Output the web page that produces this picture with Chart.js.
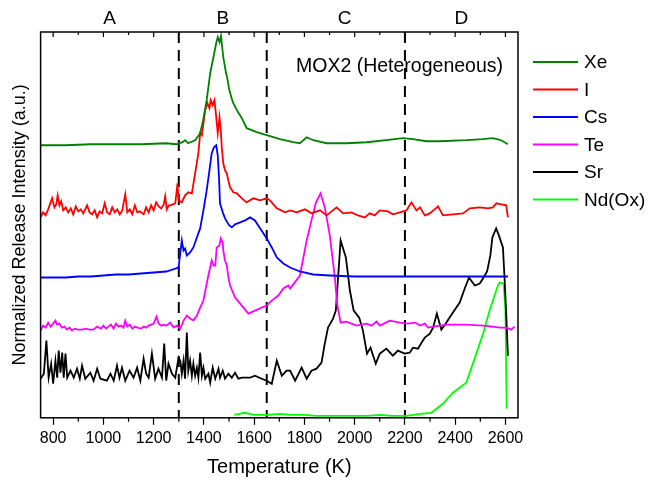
<!DOCTYPE html>
<html>
<head>
<meta charset="utf-8">
<script src="https://cdn.jsdelivr.net/npm/chart.js@4.4.0/dist/chart.umd.min.js"></script>
<style>
  body { margin: 0; background: #fff; }
  canvas { display: block; }
</style>
</head>
<body>
<canvas id="chart" width="648" height="480"></canvas>
<script>
// [temperature (K), release intensity (a.u.)] pairs, each trace already stacked on its own offset
const xe = [[750,272],[850,272],[950,273],[1050,273],[1150,273],[1250,274],[1290,273],[1315,275],[1325,277],[1337,274],
  [1365,277],[1385,284],[1397,297],[1411,317],[1425,344],[1438,360],[1449,374],[1455,380],[1462,375],[1468,381],
  [1477,360],[1488,344],[1493,339],[1501,327],[1515,315],[1531,307],[1551,299],[1570,289],[1610,285],[1650,282],
  [1703,278],[1755,275],[1782,274],[1809,280],[1835,277],[1888,274],[1967,274],[2047,275],[2126,277],[2192,279],
  [2232,278],[2285,276],[2338,276],[2444,277],[2510,278],[2550,279],[2583,277],[2610,273]];

const iodine = [[750,200],[760,205],[770,202],[780,208],[790,215],[796,219],[805,210],[812,213],[818,222],[825,212],
  [832,216],[840,207],[850,210],[860,205],[870,209],[880,203],[890,211],[900,206],[910,208],[920,204],
  [935,212],[945,205],[955,203],[965,207],[975,200],[985,206],[995,204],[1005,214],[1015,205],[1025,203],
  [1035,210],[1045,205],[1055,208],[1065,203],[1075,207],[1087,223],[1095,205],[1105,208],[1115,203],[1125,212],
  [1135,205],[1145,206],[1160,203],[1170,210],[1180,205],[1190,212],[1200,207],[1210,215],[1220,211],[1230,209],
  [1240,213],[1246,221],[1252,208],[1260,212],[1266,212],[1286,214],[1295,234],[1299,217],[1312,215],[1325,222],
  [1338,225],[1352,224],[1365,244],[1378,264],[1385,284],[1392,282],[1405,307],[1414,314],[1422,309],[1427,317],
  [1435,312],[1442,317],[1449,300],[1455,284],[1462,300],[1467,287],[1471,270],[1477,254],[1484,247],[1491,244],
  [1497,237],[1504,230],[1517,225],[1531,224],[1551,219],[1570,215],[1597,219],[1623,217],[1650,219],[1663,217],
  [1690,209],[1723,205],[1743,207],[1769,205],[1802,208],[1828,204],[1862,207],[1888,202],[1928,210],[1954,204],
  [1987,205],[2013,202],[2040,200],[2060,204],[2080,202],[2100,207],[2132,206],[2152,203],[2180,205],[2206,207],
  [2226,215],[2246,207],[2260,210],[2279,202],[2299,204],[2332,211],[2351,202],[2431,204],[2458,209],[2498,210],
  [2531,209],[2550,210],[2564,214],[2583,213],[2603,212],[2610,200]];

const cs = [[750,140],[800,140],[850,140],[900,141],[950,141],[1000,142],[1050,143],[1100,143],[1150,144],[1200,145],
  [1250,146],[1299,150],[1312,177],[1319,167],[1325,169],[1332,162],[1345,165],[1358,170],[1372,180],[1385,189],
  [1398,207],[1411,227],[1422,247],[1431,264],[1440,270],[1449,272],[1455,262],[1460,240],[1464,214],[1475,205],
  [1484,199],[1493,195],[1501,192],[1511,190],[1524,193],[1544,195],[1564,197],[1584,200],[1603,197],[1624,189],
  [1650,179],[1670,170],[1690,160],[1716,154],[1743,150],[1782,146],[1835,143],[1901,142],[2000,141],[2100,141],
  [2200,141],[2300,141],[2400,141],[2500,141],[2610,141]];

const te = [[750,87],[760,92],[770,90],[780,95],[790,91],[800,94],[809,97],[815,93],[825,94],[835,90],
  [845,91],[855,88],[865,90],[875,87],[885,89],[900,88],[915,88],[930,89],[945,88],[960,88],
  [975,91],[990,89],[1000,92],[1010,89],[1020,91],[1030,93],[1040,89],[1050,94],[1060,91],[1070,92],
  [1080,90],[1087,97],[1095,91],[1105,93],[1115,89],[1125,91],[1135,90],[1150,89],[1160,91],[1170,90],
  [1180,92],[1190,93],[1200,94],[1211,101],[1220,94],[1230,92],[1240,93],[1250,92],[1266,95],[1279,90],
  [1292,92],[1306,89],[1319,97],[1332,102],[1345,99],[1358,97],[1372,102],[1385,110],[1398,117],[1411,134],
  [1422,147],[1431,157],[1438,152],[1445,152],[1451,170],[1462,172],[1467,179],[1475,175],[1477,167],[1484,157],
  [1491,152],[1497,141],[1504,132],[1524,120],[1544,114],[1577,104],[1603,107],[1630,110],[1650,112],[1670,117],
  [1696,122],[1716,129],[1736,132],[1743,129],[1782,142],[1809,177],[1828,197],[1846,215],[1864,224],[1881,210],
  [1901,182],[1921,140],[1930,114],[1944,95],[1967,96],[2007,92],[2047,94],[2067,92],[2087,96],[2100,92],
  [2140,97],[2180,95],[2213,94],[2240,95],[2260,92],[2279,94],[2292,90],[2312,91],[2365,93],[2444,93],
  [2511,92],[2550,91],[2577,90],[2603,90],[2623,88],[2637,91]];

const sr = [[750,39],[763,44],[773,77],[782,40],[792,54],[800,34],[809,57],[816,40],[822,67],[829,45],
  [836,65],[842,40],[849,64],[856,40],[869,47],[882,40],[895,49],[906,39],[915,52],[928,39],
  [948,45],[961,37],[975,49],[988,39],[1014,37],[1028,44],[1041,37],[1054,52],[1064,40],[1074,50],
  [1087,37],[1104,47],[1120,40],[1134,50],[1147,37],[1160,59],[1170,44],[1180,40],[1193,64],[1206,39],
  [1219,49],[1233,40],[1242,74],[1250,37],[1259,54],[1273,44],[1286,40],[1299,60],[1306,57],[1312,44],
  [1319,57],[1325,39],[1332,85],[1338,47],[1345,57],[1352,42],[1358,54],[1365,42],[1372,50],[1378,40],
  [1385,65],[1392,42],[1398,50],[1405,39],[1418,44],[1425,35],[1435,50],[1445,39],[1458,49],[1464,40],
  [1475,47],[1484,39],[1497,44],[1511,40],[1524,45],[1537,39],[1551,40],[1584,40],[1603,42],[1630,39],
  [1650,37],[1670,34],[1690,57],[1710,42],[1729,47],[1743,47],[1763,37],[1789,50],[1809,39],[1828,47],
  [1848,49],[1868,55],[1881,74],[1894,90],[1914,99],[1925,107],[1934,140],[1944,177],[1965,160],[1981,127],
  [1996,107],[2018,100],[2033,87],[2049,64],[2063,70],[2084,54],[2100,64],[2126,69],[2152,62],[2172,67],
  [2199,64],[2219,65],[2232,70],[2252,69],[2266,75],[2279,80],[2299,84],[2312,90],[2327,104],[2345,88],
  [2365,95],[2391,105],[2418,115],[2438,129],[2455,140],[2478,132],[2498,134],[2513,140],[2527,146],[2540,162],
  [2548,180],[2563,189],[2574,182],[2590,170],[2597,137],[2603,104],[2610,62]];

const ndOx = [[1521,3],[1540,4],[1560,5],[1600,3],[1650,3],[1700,4],[1750,3],[1800,3],[1850,2],[1900,2],
  [1950,2],[2000,2],[2050,2],[2100,3],[2150,2],[2206,2],[2260,4],[2305,5],[2351,14],[2391,25],
  [2444,35],[2484,64],[2511,84],[2537,107],[2570,132],[2577,135],[2593,134],[2600,107],[2605,9]];

const seriesNames = ['Xe', 'I', 'Cs', 'Te', 'Sr', 'Nd(Ox)'];
const seriesData = [xe, iodine, cs, te, sr, ndOx];
const seriesColors = ['#008000', '#ff0000', '#0000ff', '#ff00ff', '#000000', '#00ff00'];

const regionBounds = [1300, 1650, 2200]; // dashed separators
const regionNames = ['A', 'B', 'C', 'D'];
const regionCentres = [1025, 1475, 1960, 2425];

const tempMin = 750;
const tempMax = 2650;
const intensityMax = 385;

const FONT = '"Liberation Sans", Arial, sans-serif';

/**
 * Frame, minor/top ticks, region letters, sample label and the legend.
 * Everything is placed from the chart area and the x scale.
 */
const decorations = {
    id: 'decorations',
    afterDatasetsDraw (chart) {
        const ctx = chart.ctx;
        const area = chart.chartArea;
        const xs = chart.scales.x;
        ctx.save();

        // box round the plot
        ctx.strokeStyle = '#000';
        ctx.lineWidth = 1.5;
        ctx.strokeRect(area.left, area.top, area.right - area.left, area.bottom - area.top);

        // minor ticks under the axis, inward ticks along the top edge
        ctx.lineWidth = 1.2;
        for (let t = 800; t <= 2600; t += 100) {
            const px = xs.getPixelForValue(t);
            const major = t % 200 === 0;
            ctx.beginPath();
            if (!major) {
                ctx.moveTo(px, area.bottom);
                ctx.lineTo(px, area.bottom + 4);
            }
            ctx.moveTo(px, area.top);
            ctx.lineTo(px, area.top + (major ? 5 : 3));
            ctx.stroke();
        }

        ctx.fillStyle = '#000';
        ctx.textBaseline = 'middle';

        // region letters above the frame
        ctx.font = '19px ' + FONT;
        ctx.textAlign = 'center';
        regionNames.forEach(function (name, i) {
            ctx.fillText(name, xs.getPixelForValue(regionCentres[i]), area.top - 13);
        });

        // sample label
        ctx.font = '19.5px ' + FONT;
        ctx.textAlign = 'right';
        ctx.fillText('MOX2 (Heterogeneous)', area.right - 15, area.top + 35);

        // legend on the right
        ctx.font = '19px ' + FONT;
        ctx.textAlign = 'left';
        ctx.lineWidth = 2;
        seriesNames.forEach(function (name, i) {
            const y = area.top + 30 + i * 27.5;
            ctx.strokeStyle = seriesColors[i];
            ctx.beginPath();
            ctx.moveTo(area.right + 15, y);
            ctx.lineTo(area.right + 60, y);
            ctx.stroke();
            ctx.fillText(name, area.right + 66, y + 1);
        });

        ctx.restore();
    }
};

const datasets = seriesData.map(function (d, i) {
    return {
        label: seriesNames[i],
        data: d.map(function (p) { return { x: p[0], y: p[1] }; }),
        showLine: true,
        borderColor: seriesColors[i],
        borderWidth: 1.8,
        pointRadius: 0,
        tension: 0
    };
});

regionBounds.forEach(function (t) {
    datasets.push({
        label: '',
        data: [{ x: t, y: intensityMax }, { x: t, y: 0 }],
        showLine: true,
        borderColor: '#000',
        borderWidth: 2,
        borderDash: [11, 7],
        pointRadius: 0
    });
});

new Chart(document.getElementById('chart'), {
    type: 'scatter',
    data: { datasets: datasets },
    plugins: [decorations],
    options: {
        responsive: false,
        animation: false,
        layout: { padding: { top: 32, right: 130, bottom: 0, left: 5 } },
        plugins: {
            legend: { display: false },
            tooltip: { enabled: false }
        },
        scales: {
            x: {
                type: 'linear',
                min: tempMin,
                max: tempMax,
                border: { display: false },
                grid: { drawOnChartArea: false, drawTicks: true, tickLength: 7, tickWidth: 1.2, tickColor: '#000' },
                ticks: {
                    stepSize: 200,
                    includeBounds: false,
                    padding: 4,
                    color: '#000',
                    font: { family: FONT, size: 16 },
                    callback: function (v) { return String(v); } // no thousands separator
                },
                title: {
                    display: true,
                    text: 'Temperature (K)',
                    color: '#000',
                    font: { family: FONT, size: 20 },
                    padding: { top: 3, bottom: 1 }
                }
            },
            y: {
                min: 0,
                max: intensityMax,
                border: { display: false },
                grid: { display: false, drawTicks: false },
                ticks: { display: false },
                title: {
                    display: true,
                    text: 'Normalized Release Intensity (a.u.)',
                    color: '#000',
                    font: { family: FONT, size: 18 },
                    padding: { top: 4, bottom: 10 }
                }
            }
        }
    }
});
</script>
</body>
</html>
